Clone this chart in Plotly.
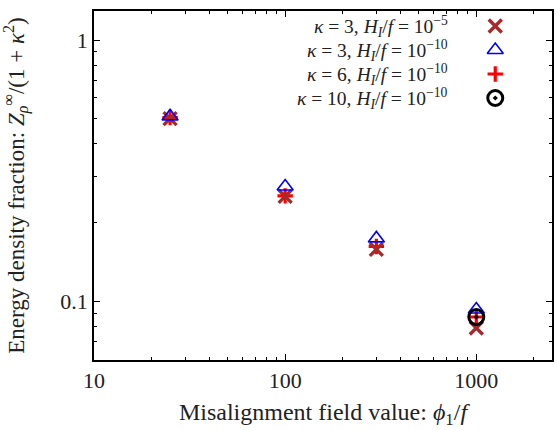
import plotly.graph_objects as go

# Data
x_k3_h5 = [25, 100, 300, 1000]
y_k3_h5 = [0.50, 0.252, 0.158, 0.079]
x_k3_h10 = [25, 100, 300, 1000]
y_k3_h10 = [0.51, 0.275, 0.174, 0.093]
x_k6_h10 = [25, 100, 300, 1000]
y_k6_h10 = [0.505, 0.253, 0.162, 0.087]
x_k10_h10 = [1000]
y_k10_h10 = [0.087]

S = "\u2005"
labels = [
    f"<i>κ</i>{S}={S}3, <i>H<sub>I</sub></i>/<i>f</i>{S}={S}10<sup>−5</sup>",
    f"<i>κ</i>{S}={S}3, <i>H<sub>I</sub></i>/<i>f</i>{S}={S}10<sup>−10</sup>",
    f"<i>κ</i>{S}={S}6, <i>H<sub>I</sub></i>/<i>f</i>{S}={S}10<sup>−10</sup>",
    f"<i>κ</i>{S}={S}10, <i>H<sub>I</sub></i>/<i>f</i>{S}={S}10<sup>−10</sup>",
]
x_ticks = [10, 100, 1000]
y_ticks = [0.1, 1]

FONT = "Liberation Serif"
TXT = "#222"
styles = [
    dict(symbol="x-thin-open", color="#A52A2A", size=13, lw=3.4),
    dict(symbol="triangle-up-open", color="#0000FF", size=14, lw=1.6),
    dict(symbol="cross-thin-open", color="#FF0000", size=11, lw=3.2),
    dict(symbol="circle-open-dot", color="#000000", size=15, lw=3),
]
series = [(x_k3_h5, y_k3_h5), (x_k3_h10, y_k3_h10), (x_k6_h10, y_k6_h10), (x_k10_h10, y_k10_h10)]
draw_order = [2, 0, 1, 3]

W, H = 557, 430
ml, mr, mt, mb = 94, 3, 11, 70

fig = go.Figure()
for i in draw_order:
    (xs, ys), st, lab = series[i], styles[i], labels[i]
    fig.add_trace(go.Scatter(
        x=xs, y=ys, mode="markers", name=lab, showlegend=False,
        marker=dict(symbol=st["symbol"], size=st["size"], color=st["color"],
                    line=dict(color=st["color"], width=st["lw"])),
    ))

# Custom legend (text to the left of symbol), on an overlay axis in plot-fraction units
pw = W - ml - mr
ph = H - mt - mb
leg_sym_x = (497 - ml) / pw
leg_txt_x = (452 - ml) / pw
leg_rows_px = [26, 50, 74, 98]
for st, lab, rpx in zip(styles, labels, leg_rows_px):
    yy = 1 - (rpx - mt) / ph
    fig.add_trace(go.Scatter(
        x=[leg_sym_x], y=[yy], xaxis="x2", yaxis="y2", mode="markers", showlegend=False,
        marker=dict(symbol=st["symbol"], size=st["size"], color=st["color"],
                    line=dict(color=st["color"], width=st["lw"])),
        hoverinfo="skip",
    ))
    fig.add_annotation(x=leg_txt_x, y=yy, xref="x2", yref="y2", text=lab, showarrow=False,
                       xanchor="right", yanchor="middle",
                       font=dict(family=FONT, size=19.5, color=TXT))

minor_x = [v * d for d in (10, 100) for v in range(2, 10)] + [2000]
minor_y = [v / 100 for v in range(6, 10)] + [v / 10 for v in range(2, 10)]

axis_common = dict(
    showgrid=False, zeroline=False, showline=True, linecolor="black", linewidth=1.5,
    mirror="allticks", ticks="inside", ticklen=6, tickwidth=1, tickcolor="black",
    tickfont=dict(family=FONT, size=22, color=TXT),
)
fig.update_layout(
    width=W, height=H, margin=dict(l=ml, r=mr, t=mt, b=mb),
    paper_bgcolor="white", plot_bgcolor="white",
    font=dict(family=FONT, color=TXT),
    xaxis=dict(type="log", range=[1, 3.396], tickvals=x_ticks, ticktext=["10", "100", "1000"],
               minor=dict(ticks="inside", ticklen=3, tickvals=minor_x, tickcolor="black", showgrid=False),
               title=dict(text="Misalignment field value: <i>ϕ</i><sub>1</sub>/<i>f</i>",
                          font=dict(family=FONT, size=24, color=TXT), standoff=11),
               **axis_common),
    yaxis=dict(type="log", range=[-1.225, 0.111], tickvals=y_ticks, ticktext=["0.1", "1"],
               minor=dict(ticks="inside", ticklen=3, tickvals=minor_y, tickcolor="black", showgrid=False),
               title=dict(text="Energy density fraction: <i>Z</i><sub><i>ρ</i></sub><sup>∞</sup>/(1 + <i>κ</i><sup>2</sup>)",
                          font=dict(family=FONT, size=23, color=TXT), standoff=32),
               **axis_common),
    xaxis2=dict(overlaying="x", range=[0, 1], visible=False, fixedrange=True),
    yaxis2=dict(overlaying="y", range=[0, 1], visible=False, fixedrange=True),
)
fig.write_html("out.html")
